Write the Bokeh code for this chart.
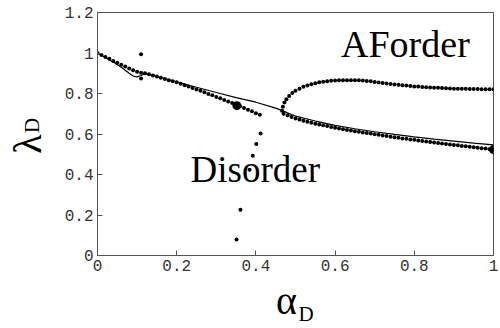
from bokeh.plotting import figure
from bokeh.models import Range1d, FixedTicker, Label, LinearAxis
from bokeh.embed import file_html
from bokeh.resources import INLINE

# Disordered branch (dots)
dis_x = [0.00, 0.01, 0.02, 0.03, 0.04, 0.05, 0.06, 0.07, 0.08, 0.09, 0.10, 0.11,
         0.12, 0.13, 0.14, 0.15, 0.16, 0.17, 0.18, 0.19, 0.20, 0.21, 0.22, 0.23,
         0.24, 0.25, 0.26, 0.27, 0.28, 0.29, 0.30, 0.31, 0.32, 0.33, 0.34, 0.35,
         0.36, 0.37, 0.38, 0.39, 0.40, 0.41]
dis_y = [1.000, 0.990, 0.980, 0.971, 0.961, 0.952, 0.942, 0.933, 0.924, 0.915, 0.907, 0.903,
         0.900, 0.895, 0.889, 0.884, 0.878, 0.872, 0.866, 0.861, 0.855, 0.848, 0.841, 0.834,
         0.827, 0.820, 0.813, 0.806, 0.798, 0.791, 0.783, 0.776, 0.768, 0.761, 0.753, 0.745,
         0.737, 0.729, 0.720, 0.712, 0.703, 0.695]

# Isolated / falling points
iso_x = [0.110, 0.110, 0.412, 0.401, 0.392, 0.384, 0.361, 0.351]
iso_y = [0.994, 0.874, 0.603, 0.551, 0.493, 0.423, 0.226, 0.079]

# AF ordered branch, upper
af_up_x = [0.466, 0.468, 0.472, 0.477, 0.484, 0.492, 0.50, 0.51, 0.52, 0.53, 0.54, 0.55,
           0.56, 0.57, 0.58, 0.59, 0.60, 0.61, 0.62, 0.63, 0.64, 0.65, 0.66, 0.67, 0.68,
           0.69, 0.70, 0.71, 0.72, 0.73, 0.74, 0.75, 0.76, 0.77, 0.78, 0.79, 0.80, 0.81,
           0.82, 0.83, 0.84, 0.85, 0.86, 0.87, 0.88, 0.89, 0.90, 0.91, 0.92, 0.93, 0.94,
           0.95, 0.96, 0.97, 0.98, 0.99, 1.00]
af_up_y = [0.715, 0.735, 0.755, 0.772, 0.788, 0.802, 0.814, 0.824, 0.833, 0.840, 0.846, 0.851,
           0.855, 0.858, 0.861, 0.863, 0.864, 0.865, 0.866, 0.866, 0.866, 0.866, 0.865, 0.864, 0.862,
           0.860, 0.857, 0.854, 0.852, 0.850, 0.847, 0.845, 0.843, 0.841, 0.839, 0.837, 0.835, 0.834,
           0.832, 0.831, 0.830, 0.829, 0.828, 0.827, 0.826, 0.825, 0.824, 0.824, 0.823, 0.823, 0.822,
           0.822, 0.822, 0.821, 0.821, 0.821, 0.821]

# AF ordered branch, lower
af_lo_x = [0.47, 0.48, 0.49, 0.50, 0.51, 0.52, 0.53, 0.54, 0.55, 0.56, 0.57, 0.58, 0.59,
           0.60, 0.61, 0.62, 0.63, 0.64, 0.65, 0.66, 0.67, 0.68, 0.69, 0.70, 0.71, 0.72,
           0.73, 0.74, 0.75, 0.76, 0.77, 0.78, 0.79, 0.80, 0.81, 0.82, 0.83, 0.84, 0.85,
           0.86, 0.87, 0.88, 0.89, 0.90, 0.91, 0.92, 0.93, 0.94, 0.95, 0.96, 0.97, 0.98,
           0.99, 1.00]
af_lo_y = [0.700, 0.692, 0.684, 0.677, 0.671, 0.665, 0.660, 0.655, 0.651, 0.647, 0.643, 0.639, 0.635,
           0.631, 0.627, 0.623, 0.620, 0.617, 0.614, 0.611, 0.608, 0.605, 0.602, 0.599, 0.596, 0.593,
           0.590, 0.587, 0.584, 0.581, 0.578, 0.576, 0.573, 0.571, 0.568, 0.566, 0.563, 0.561, 0.558,
           0.556, 0.553, 0.551, 0.548, 0.546, 0.544, 0.541, 0.539, 0.537, 0.534, 0.532, 0.530, 0.528,
           0.525, 0.523]

# Highlighted points
big_x = [0.352, 1.0]
big_y = [0.740, 0.523]

# Solid curve
line_x = [0.00, 0.02, 0.04, 0.06, 0.08, 0.09, 0.10, 0.11, 0.12, 0.15, 0.20, 0.25, 0.30, 0.35,
          0.40, 0.45, 0.47, 0.50, 0.55, 0.60, 0.65, 0.70, 0.75, 0.80, 0.85, 0.90, 0.95, 1.00]
line_y = [1.000, 0.978, 0.955, 0.930, 0.900, 0.886, 0.882, 0.889, 0.898, 0.884, 0.858, 0.831, 0.805, 0.780,
          0.757, 0.728, 0.713, 0.688, 0.664, 0.643, 0.626, 0.611, 0.598, 0.586, 0.575, 0.565, 0.555, 0.546]

x_ticks = [0, 0.2, 0.4, 0.6, 0.8, 1.0]
x_tick_labels = ["0", "0.2", "0.4", "0.6", "0.8", "1"]
y_ticks = [0, 0.2, 0.4, 0.6, 0.8, 1.0, 1.2]
y_tick_labels = ["0", "0.2", "0.4", "0.6", "0.8", "1", "1.2"]

# axis titles: symbol + subscript, placed along each axis
x_title = ["α", "D"]
x_title_pos = [0.4775, 0.5265]
y_title = ["λ", "D"]
y_title_pos = [0.551, 0.642]

p = figure(width=500, height=328, output_backend="svg", toolbar_location=None,
           x_range=Range1d(0, 1), y_range=Range1d(0, 1.2),
           min_border_left=97, min_border_right=7, min_border_top=12, min_border_bottom=72)
p.background_fill_color = "white"
p.border_fill_color = "white"
p.grid.visible = False
p.outline_line_color = "#555555"
p.outline_line_width = 1

for ax, ticks, labels in ((p.xaxis[0], x_ticks, x_tick_labels), (p.yaxis[0], y_ticks, y_tick_labels)):
    ax.ticker = FixedTicker(ticks=ticks)
    ax.major_label_overrides = {t: l for t, l in zip(ticks, labels)}
    ax.major_tick_in = 5
    ax.major_tick_out = 0
    ax.minor_tick_line_color = None
    ax.axis_line_color = "#555555"
    ax.major_tick_line_color = "#555555"
    ax.major_label_text_font = "Liberation Mono"
    ax.major_label_text_font_size = "16px"
    ax.major_label_text_color = "#333333"
    ax.major_label_standoff = 4

serif = "Liberation Serif"


def title_axis(pos, text, size, standoff, vertical=False, line_height=1.2):
    ax = LinearAxis(ticker=FixedTicker(ticks=[pos]),
                    major_label_overrides={pos: text},
                    axis_line_color=None, major_tick_line_color=None,
                    minor_tick_line_color=None, major_tick_in=0, major_tick_out=0,
                    major_label_standoff=standoff,
                    major_label_text_font=serif, major_label_text_font_size=size,
                    major_label_text_line_height=line_height,
                    major_label_text_color="black")
    if vertical:
        ax.major_label_orientation = "vertical"
    return ax


p.add_layout(title_axis(x_title_pos[0], x_title[0], "40px", 4, line_height=0.8), "below")
p.add_layout(title_axis(x_title_pos[1], x_title[1], "21px", -24, line_height=0.8), "below")
p.add_layout(title_axis(y_title_pos[0], y_title[0], "40px", 11, vertical=True), "left")
p.add_layout(title_axis(y_title_pos[1], y_title[1], "21px", -42, vertical=True), "left")

p.line(line_x, line_y, line_color="black", line_width=1.2)
p.scatter(dis_x, dis_y, size=4, color="black", line_color=None)
p.scatter(iso_x, iso_y, size=4, color="black", line_color=None)
p.scatter(af_up_x, af_up_y, size=4, color="black", line_color=None)
p.scatter(af_lo_x, af_lo_y, size=4, color="black", line_color=None)
p.scatter(big_x, big_y, size=9, color="black", line_color=None)

p.add_layout(Label(x=0.235, y=0.321, text="Disorder", text_font=serif,
                   text_font_size="37px", text_color="black"))
p.add_layout(Label(x=0.615, y=0.94, text="AForder", text_font=serif,
                   text_font_size="38px", text_color="black"))

open("out.html", "w").write(file_html(p, INLINE))
